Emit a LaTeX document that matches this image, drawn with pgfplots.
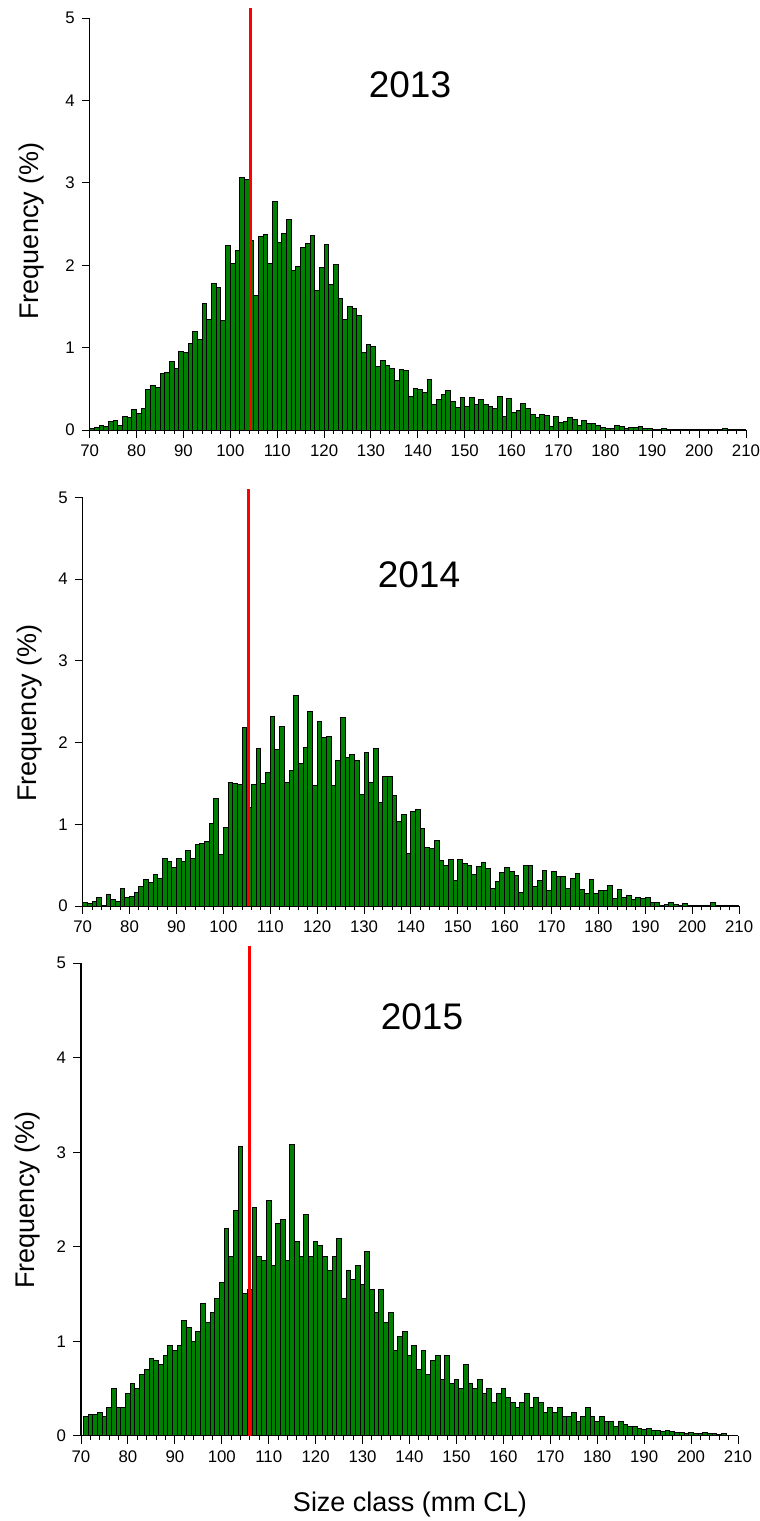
\documentclass[border=0pt]{standalone}
\usepackage{fontspec}
\setmainfont{Liberation Sans}
\usepackage{pgfplots}
\usepackage{pgfplotstable}
\pgfplotsset{compat=1.18}
\definecolor{bargreen}{RGB}{0,128,0}

\pgfplotstableread{
x y
70 0.02
71 0.03
72 0.06
73 0.04
74 0.10
75 0.11
76 0.05
77 0.16
78 0.15
79 0.25
80 0.20
81 0.26
82 0.49
83 0.54
84 0.52
85 0.69
86 0.70
87 0.83
88 0.75
89 0.95
90 0.94
91 1.05
92 1.20
93 1.10
94 1.54
95 1.34
96 1.78
97 1.73
98 1.33
99 2.24
100 2.02
101 2.18
102 3.07
103 3.04
104 2.30
105 1.63
106 2.35
107 2.37
108 2.02
109 2.77
110 2.27
111 2.38
112 2.56
113 1.93
114 1.98
115 2.21
116 2.26
117 2.36
118 1.69
119 1.97
120 2.25
121 1.77
122 2.01
123 1.59
124 1.34
125 1.50
126 1.47
127 1.39
128 0.94
129 1.04
130 1.01
131 0.77
132 0.84
133 0.78
134 0.75
135 0.60
136 0.74
137 0.72
138 0.41
139 0.50
140 0.49
141 0.46
142 0.61
143 0.31
144 0.37
145 0.43
146 0.48
147 0.35
148 0.27
149 0.40
150 0.28
151 0.39
152 0.31
153 0.37
154 0.31
155 0.29
156 0.26
157 0.41
158 0.16
159 0.38
160 0.21
161 0.24
162 0.32
163 0.26
164 0.19
165 0.15
166 0.19
167 0.18
168 0.04
169 0.16
170 0.09
171 0.10
172 0.15
173 0.13
174 0.06
175 0.11
176 0.08
177 0.08
178 0.05
179 0.03
180 0.02
181 0.02
182 0.05
183 0.04
184 0.02
185 0.03
186 0.03
187 0.04
188 0.02
189 0.02
191 0.01
192 0.02
205 0.015
}\dataA

\pgfplotstableread{
x y
70 0.04
71 0.03
72 0.05
73 0.10
74 0.01
75 0.14
76 0.08
77 0.06
78 0.21
79 0.11
80 0.12
81 0.16
82 0.24
83 0.33
84 0.29
85 0.38
86 0.34
87 0.58
88 0.55
89 0.47
90 0.58
91 0.55
92 0.68
93 0.58
94 0.75
95 0.77
96 0.79
97 1.01
98 1.32
99 0.63
100 0.96
101 1.51
102 1.50
103 1.49
104 2.19
105 1.20
106 1.49
107 1.93
108 1.50
109 1.63
110 2.32
111 1.91
112 2.20
113 1.51
114 1.66
115 2.58
116 1.74
117 1.94
118 2.38
119 1.47
120 2.26
121 2.06
122 2.08
123 1.47
124 1.78
125 2.31
126 1.82
127 1.86
128 1.78
129 1.36
130 1.88
131 1.51
132 1.93
133 1.27
134 1.58
135 1.58
136 1.35
137 1.03
138 1.12
139 0.64
140 1.16
141 1.18
142 0.95
143 0.72
144 0.71
145 0.80
146 0.56
147 0.49
148 0.57
149 0.31
150 0.57
151 0.52
152 0.49
153 0.38
154 0.48
155 0.53
156 0.46
157 0.22
158 0.30
159 0.41
160 0.47
161 0.42
162 0.37
163 0.17
164 0.49
165 0.49
166 0.24
167 0.31
168 0.44
169 0.19
170 0.42
171 0.36
172 0.36
173 0.22
174 0.34
175 0.40
176 0.20
177 0.15
178 0.33
179 0.15
180 0.19
181 0.19
182 0.25
183 0.09
184 0.20
185 0.11
186 0.13
187 0.08
188 0.10
189 0.09
190 0.10
191 0.04
192 0.04
193 0.01
194 0.02
195 0.04
196 0.02
197 0.01
198 0.03
199 0.01
200 0.01
201 0.01
202 0.01
203 0.01
204 0.04
206 0.01
}\dataB

\pgfplotstableread{
x y
71 0.20
72 0.22
73 0.22
74 0.25
75 0.20
76 0.30
77 0.50
78 0.30
79 0.30
80 0.45
81 0.55
82 0.50
83 0.65
84 0.70
85 0.82
86 0.80
87 0.75
88 0.85
89 0.95
90 0.90
91 0.95
92 1.22
93 1.15
94 1.00
95 1.10
96 1.40
97 1.20
98 1.30
99 1.45
100 1.62
101 2.19
102 1.90
103 2.38
104 3.06
105 1.50
106 1.55
107 2.41
108 1.90
109 1.85
110 2.49
111 1.80
112 2.25
113 2.29
114 1.85
115 3.08
116 2.05
117 1.90
118 2.34
119 1.90
120 2.06
121 2.01
122 1.90
123 1.75
124 1.90
125 2.09
126 1.45
127 1.75
128 1.65
129 1.80
130 1.60
131 1.95
132 1.55
133 1.30
134 1.55
135 1.20
136 1.30
137 0.90
138 1.05
139 1.10
140 0.85
141 0.95
142 0.70
143 0.90
144 0.65
145 0.80
146 0.85
147 0.60
148 0.85
149 0.55
150 0.60
151 0.50
152 0.75
153 0.55
154 0.50
155 0.60
156 0.45
157 0.50
158 0.35
159 0.45
160 0.50
161 0.40
162 0.35
163 0.30
164 0.35
165 0.45
166 0.30
167 0.40
168 0.35
169 0.25
170 0.30
171 0.25
172 0.30
173 0.20
174 0.20
175 0.25
176 0.15
177 0.20
178 0.30
179 0.20
180 0.15
181 0.20
182 0.15
183 0.15
184 0.10
185 0.15
186 0.12
187 0.10
188 0.10
189 0.08
190 0.07
191 0.08
192 0.05
193 0.06
194 0.04
195 0.05
196 0.04
197 0.03
198 0.03
199 0.02
200 0.03
201 0.02
202 0.02
203 0.03
204 0.02
205 0.02
206 0.01
207 0.02
}\dataC

\pgfplotsset{
  hist/.style={
    scale only axis,
    xmin=70, xmax=210, ymin=0, ymax=5,
    enlargelimits=false,
    axis x line=bottom, axis y line=left,
    axis line style={-, line width=0.6pt},
    xtick={70,80,...,210}, minor x tick num=4,
    ytick={0,1,...,5},
    tick align=outside,
    major tick length=4pt, minor tick length=2pt,
    tick style={black, line width=0.5pt},
    tick label style={font=\fontsize{8.4}{10}\selectfont},
    /pgf/number format/assume math mode=true,
    clip=false,
    bar width=1,
  },
  bars/.style={ybar, bar shift=0.5, fill=bargreen, draw=black, line width=0.5pt},
  redline/.style={red, line width=1.5pt, forget plot},
}

\begin{document}
\begin{tikzpicture}
\path[use as bounding box] (0,0) rectangle (380pt,-760.5pt);

\begin{axis}[hist, at={(44.85pt,-215pt)}, anchor=south west, width=328.15pt, height=206pt]
\addplot[bars] table[x=x,y=y] {\dataA};
\addplot[redline] coordinates {(104.3,0) (104.3,5.12)};
\end{axis}

\begin{axis}[hist, at={(41.35pt,-453pt)}, anchor=south west, width=328.2pt, height=204.25pt]
\addplot[bars] table[x=x,y=y] {\dataB};
\addplot[redline] coordinates {(105.3,0) (105.3,5.11)};
\end{axis}

\begin{axis}[hist, at={(40.5pt,-717.85pt)}, anchor=south west, width=328.5pt, height=236.25pt]
\addplot[bars, bar shift=0] table[x=x,y=y] {\dataC};
\addplot[redline] coordinates {(105.8,0) (105.8,5.18)};
\end{axis}

\node[rotate=90, font=\fontsize{13.5}{16}\selectfont] at (16pt,-115.5pt) {Frequency (\%)};
\node[rotate=90, font=\fontsize{13.5}{16}\selectfont] at (15pt,-356.5pt) {Frequency (\%)};
\node[rotate=90, font=\fontsize{13.5}{16}\selectfont] at (14pt,-600pt) {Frequency (\%)};
\node[font=\fontsize{18.5}{22}\selectfont] at (205pt,-42.5pt) {2013};
\node[font=\fontsize{18.5}{22}\selectfont] at (209.5pt,-287.5pt) {2014};
\node[font=\fontsize{18.5}{22}\selectfont] at (211pt,-508.5pt) {2015};
\node[font=\fontsize{13.5}{16}\selectfont] at (205pt,-752pt) {Size class (mm CL)};
\end{tikzpicture}
\end{document}
